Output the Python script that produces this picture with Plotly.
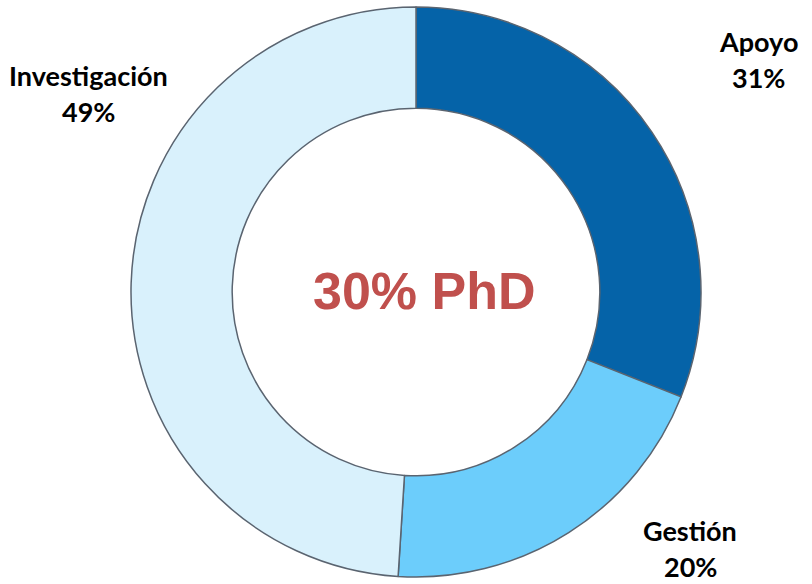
import plotly.graph_objects as go

categories = ["Apoyo", "Gestión", "Investigación"]
values = [31, 20, 49]
pct_labels = ["31%", "20%", "49%"]
colors = ["#0563a8", "#6ccdfb", "#d9f1fc"]
center_text = "30% PhD"

W, H = 812, 584
cx, cy, R = 416, 292, 285

fig = go.Figure(go.Pie(
    labels=categories,
    values=values,
    sort=False,
    direction="clockwise",
    rotation=0,
    hole=0.645,
    marker=dict(colors=colors, line=dict(color="#5a6470", width=1.5)),
    textinfo="none",
    hoverinfo="label+percent",
    domain=dict(x=[(cx - R) / W, (cx + R) / W], y=[(H - cy - R) / H, (H - cy + R) / H]),
    showlegend=False,
))

# label positions in pixels (name line, percent line)
label_pos = {"Apoyo": (758, 42, 78), "Gestión": (690, 530, 566), "Investigación": (88, 75, 111)}
ann = []
for cat, pct in zip(categories, pct_labels):
    x, y1, y2 = label_pos[cat]
    for txt, yy in ((cat, y1), (pct, y2)):
        ann.append(dict(x=x / W, y=1 - yy / H, xref="paper", yref="paper", text=txt,
                        showarrow=False, xanchor="center", yanchor="middle",
                        font=dict(family="Lato", size=27, color="#000000", weight="bold")))
ann.append(dict(x=424 / W, y=1 - 291 / H, xref="paper", yref="paper",
                text="<b>" + center_text + "</b>",
                showarrow=False, xanchor="center", yanchor="middle",
                font=dict(family="Liberation Sans, Arial", size=52, color="#c0504d")))

fig.update_layout(width=W, height=H, margin=dict(l=0, r=0, t=0, b=0),
                  paper_bgcolor="white", plot_bgcolor="white", annotations=ann)
fig.write_html("out.html", config={"displayModeBar": False},
               post_script="document.body.style.margin='0px';")
